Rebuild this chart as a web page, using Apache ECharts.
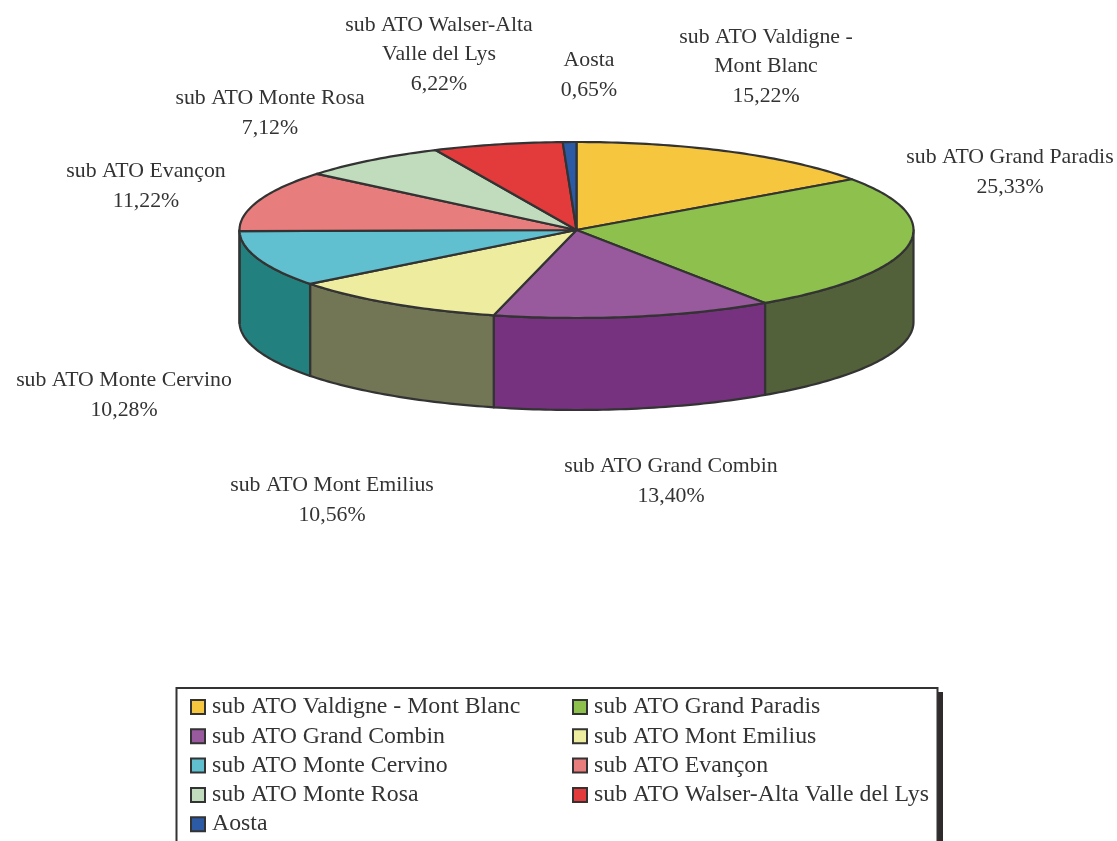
<!DOCTYPE html>
<html>
<head>
<meta charset="utf-8">
<style>
  html, body { margin: 0; padding: 0; background: #fff; }
  #chart-container { width: 1117px; height: 841px; }
</style>
<script src="https://cdn.jsdelivr.net/npm/echarts@6/dist/echarts.min.js"></script>
</head>
<body>
<div id="chart-container"></div>
<script>
var names = [
  "sub ATO Valdigne - Mont Blanc",
  "sub ATO Grand Paradis",
  "sub ATO Grand Combin",
  "sub ATO Mont Emilius",
  "sub ATO Monte Cervino",
  "sub ATO Evançon",
  "sub ATO Monte Rosa",
  "sub ATO Walser-Alta Valle del Lys",
  "Aosta",
];
var shares = [15.22, 25.33, 13.4, 10.56, 10.28, 11.22, 7.12, 6.22, 0.65];
var labelNames = [
  "sub ATO Valdigne -\nMont Blanc",
  "sub ATO Grand Paradis",
  "sub ATO Grand Combin",
  "sub ATO Mont Emilius",
  "sub ATO Monte Cervino",
  "sub ATO Evançon",
  "sub ATO Monte Rosa",
  "sub ATO Walser-Alta\nValle del Lys",
  "Aosta",
];
var topColors = ["#f6c63e", "#8dc04c", "#985a9c", "#eeec9e", "#60c0d0", "#e87d7d", "#c0dcbc", "#e33b3b", "#2c5aa4"];
var sideColors = ["#7b6320", "#53613a", "#77327f", "#727654", "#22807f", "#743e3e", "#606e5e", "#711d1d", "#162d52"];
var labelCenters = [
  [766, 66.5], [1010, 172.5], [671, 481.5], [332, 500.5], [124, 395.5],
  [146, 186.5], [270, 113.5], [439, 54.5], [589, 75.5],
];

var font = '"Liberation Serif", "Times New Roman", serif';
var inkColor = "#333333";
var pie = { cx: 576.5, cy: 230, rx: 337, ry: 88, depth: 92 };

function rimPoint(deg, drop) {
  var a = (deg * Math.PI) / 180;
  return [pie.cx + pie.rx * Math.sin(a), pie.cy - pie.ry * Math.cos(a) + (drop || 0)];
}

function arcPoints(from, to, drop) {
  var pts = [];
  var steps = Math.max(1, Math.ceil(to - from));
  for (var i = 0; i <= steps; i++) {
    pts.push(rimPoint(from + ((to - from) * i) / steps, drop));
  }
  return pts;
}

function renderSlice(params, api) {
  var from = (api.value(0) / 100) * 360;
  var to = (api.value(1) / 100) * 360;
  var i = params.seriesIndex;
  var children = [];

  // only the front half of the rim has a visible wall
  var wallFrom = Math.max(from, 90);
  var wallTo = Math.min(to, 270);
  if (wallTo > wallFrom) {
    var wall = arcPoints(wallFrom, wallTo, 0).concat(arcPoints(wallFrom, wallTo, pie.depth).reverse());
    children.push({
      type: "polygon",
      z2: 1,
      shape: { points: wall },
      style: { fill: sideColors[i], stroke: inkColor, lineWidth: 2.2, lineJoin: "round" },
    });
  }

  children.push({
    type: "polygon",
    z2: 2,
    shape: { points: [[pie.cx, pie.cy]].concat(arcPoints(from, to, 0)) },
    style: { fill: topColors[i], stroke: inkColor, lineWidth: 2.2, lineJoin: "round" },
  });

  children.push({
    type: "text",
    z2: 3,
    style: {
      x: labelCenters[i][0],
      y: labelCenters[i][1],
      text: labelNames[i] + "\n" + shares[i].toFixed(2).replace(".", ",") + "%",
      align: "center",
      verticalAlign: "middle",
      font: "21.8px " + font,
      lineHeight: 29.5,
      fill: inkColor,
    },
  });

  return { type: "group", children: children };
}

var running = 0;
var series = names.map(function (name, i) {
  var start = running;
  running += shares[i];
  return {
    type: "custom",
    name: name,
    coordinateSystem: "none",
    renderItem: renderSlice,
    itemStyle: { color: topColors[i] },
    silent: true,
    animation: false,
    data: [[start, running]],
  };
});

function legendColumn(left, members) {
  return {
    orient: "vertical",
    left: left,
    top: 694,
    padding: 0,
    itemGap: 3.3,
    itemWidth: 14,
    itemHeight: 14,
    icon: "rect",
    selectedMode: false,
    itemStyle: { borderColor: inkColor, borderWidth: 2 },
    textStyle: { fontFamily: font, fontSize: 23.8, lineHeight: 24, color: inkColor, padding: [2, 0, 0, 2] },
    data: members,
  };
}

var myChart = echarts.init(document.getElementById("chart-container"), null, { renderer: "canvas" });

var option = {
  backgroundColor: "#ffffff",
  animation: false,
  legend: [
    legendColumn(190, [names[0], names[2], names[4], names[6], names[8]]),
    legendColumn(572, [names[1], names[3], names[5], names[7]]),
  ],
  graphic: {
    elements: [
      {
        type: "rect",
        z: 0,
        shape: { x: 938, y: 692, width: 5, height: 160 },
        style: { fill: "#2f2b2c" },
      },
      {
        type: "rect",
        z: 0,
        shape: { x: 176.5, y: 688, width: 761, height: 170 },
        style: { fill: "#ffffff", stroke: inkColor, lineWidth: 2 },
      },
    ],
  },
  series: series,
};

myChart.setOption(option);

window.addEventListener("resize", myChart.resize);
</script>
</body>
</html>
